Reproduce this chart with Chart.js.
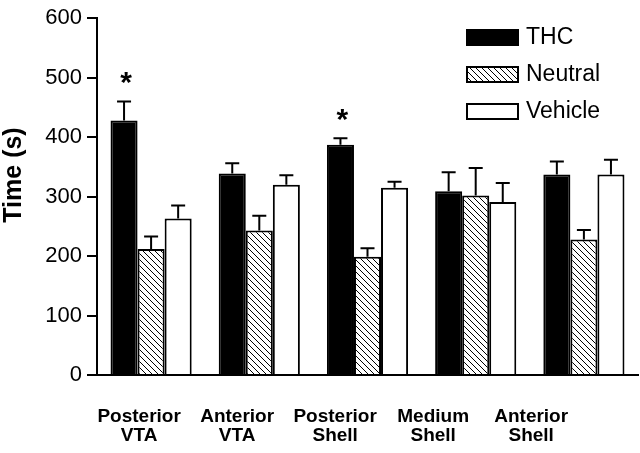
<!DOCTYPE html>
<html>
<head>
<meta charset="utf-8">
<script src="https://cdn.jsdelivr.net/npm/chart.js@4.4.0/dist/chart.umd.min.js"></script>
<style>
  html, body { margin: 0; padding: 0; background: #fff; }
</style>
</head>
<body>
<canvas id="chart" width="640" height="453"></canvas>
<script>
const regions = [['Posterior', 'VTA'], ['Anterior', 'VTA'], ['Posterior', 'Shell'], ['Medium', 'Shell'], ['Anterior', 'Shell']];
const thc = [428, 339, 387, 309, 337];
const thcErr = [32, 17, 11, 32, 22];
const neutral = [212, 243, 199, 302, 228];
const neutralErr = [21, 25, 14, 46, 16];
const vehicle = [263, 320, 315, 291, 337];
const vehicleErr = [22, 16, 10, 32, 25];
const significant = [true, false, true, false, false];
const yTicks = [0, 100, 200, 300, 400, 500, 600];

const FONT = '"Liberation Sans", Arial, sans-serif';

// diagonal hatch for the Neutral bars
function hatch() {
  const c = document.createElement('canvas');
  c.width = 6; c.height = 6;
  const g = c.getContext('2d');
  g.fillStyle = '#fff';
  g.fillRect(0, 0, 6, 6);
  g.strokeStyle = '#000';
  g.lineWidth = 1;
  g.beginPath();
  g.moveTo(-1, -1); g.lineTo(7, 7);
  g.moveTo(-1, 5); g.lineTo(1, 7);
  g.moveTo(5, -1); g.lineTo(7, 1);
  g.stroke();
  return g.createPattern(c, 'repeat');
}

// error bars (upper only) and significance stars
const errorBars = {
  id: 'errorBars',
  afterDatasetsDraw(chart) {
    const ctx = chart.ctx;
    const y = chart.scales.y;
    ctx.save();
    ctx.strokeStyle = '#000';
    ctx.lineWidth = 2;
    chart.data.datasets.forEach((ds, i) => {
      chart.getDatasetMeta(i).data.forEach((bar, j) => {
        const base = y.getPixelForValue(ds.data[j]);
        const top = y.getPixelForValue(ds.data[j] + ds.errors[j]);
        ctx.beginPath();
        ctx.moveTo(bar.x, base);
        ctx.lineTo(bar.x, top);
        ctx.moveTo(bar.x - 7, top);
        ctx.lineTo(bar.x + 7, top);
        ctx.stroke();
      });
    });
    const ds = chart.data.datasets[0];
    const meta = chart.getDatasetMeta(0);
    ctx.fillStyle = '#000';
    ctx.font = 'bold 30px ' + FONT;
    ctx.textAlign = 'center';
    ctx.textBaseline = 'alphabetic';
    significant.forEach((s, j) => {
      if (!s) return;
      const top = y.getPixelForValue(ds.data[j] + ds.errors[j]);
      ctx.fillText('*', meta.data[j].x + 2, top - 9);
    });
    ctx.restore();
  }
};

// legend box in the top right and the y title
const sideText = {
  id: 'sideText',
  afterDraw(chart) {
    const ctx = chart.ctx;
    ctx.save();
    ctx.font = '23px ' + FONT;
    ctx.textBaseline = 'middle';
    ctx.textAlign = 'left';
    chart.data.datasets.forEach((ds, i) => {
      const top = 30 + i * 37;
      ctx.fillStyle = ds.backgroundColor;
      ctx.fillRect(467, top, 51, 15);
      ctx.strokeStyle = '#000';
      ctx.lineWidth = 2;
      ctx.strokeRect(467, top, 51, 15);
      ctx.fillStyle = '#000';
      ctx.fillText(ds.label, 526, top + 8);
    });
    ctx.translate(14, 175);
    ctx.rotate(-Math.PI / 2);
    ctx.textAlign = 'center';
    ctx.font = 'bold 25px ' + FONT;
    ctx.fillText('Time (s)', 0, 0);
    ctx.restore();
  }
};

const barStyle = { borderColor: '#000', borderWidth: 2, xAxisID: 'x', yAxisID: 'y' };

new Chart(document.getElementById('chart'), {
  type: 'bar',
  data: {
    labels: regions.map(r => r.join(' ')),
    datasets: [
      { ...barStyle, label: 'THC', data: thc, errors: thcErr, backgroundColor: '#000' },
      { ...barStyle, label: 'Neutral', data: neutral, errors: neutralErr, backgroundColor: hatch() },
      { ...barStyle, label: 'Vehicle', data: vehicle, errors: vehicleErr, backgroundColor: '#fff' }
    ]
  },
  options: {
    responsive: false,
    animation: false,
    devicePixelRatio: 1,
    layout: { padding: { top: 14, right: 2, left: 0, bottom: 0 } },
    datasets: { bar: { barPercentage: 1, categoryPercentage: 0.75 } },
    plugins: { legend: { display: false }, tooltip: { enabled: false } },
    scales: {
      x: {
        grid: { display: false },
        border: { display: true, color: '#000', width: 2 },
        ticks: { display: false },
        afterFit: s => { s.height = 2; }
      },
      xl: {
        type: 'linear',
        position: 'bottom',
        offset: false,
        min: -0.43,
        max: 5.09,
        afterBuildTicks: s => { s.ticks = regions.map((_, i) => ({ value: i })); },
        grid: { display: false, offset: false },
        border: { display: false },
        ticks: {
          autoSkip: false,
          maxRotation: 0,
          padding: 22,
          color: '#000',
          font: { family: FONT, size: 19, weight: 'bold', lineHeight: 1.0 },
          callback: (v, i) => regions[i]
        },
        afterFit: s => { s.height = 76; }
      },
      y: {
        min: 0,
        max: 600,
        afterBuildTicks: s => { s.ticks = yTicks.map(v => ({ value: v })); },
        grid: { drawOnChartArea: false, drawTicks: true, tickLength: 10, color: '#000', lineWidth: 2 },
        border: { display: true, color: '#000', width: 2 },
        ticks: { color: '#000', padding: 5, font: { family: FONT, size: 22 } },
        afterFit: s => { s.width = 97; }
      }
    }
  },
  plugins: [errorBars, sideText]
});
</script>
</body>
</html>
